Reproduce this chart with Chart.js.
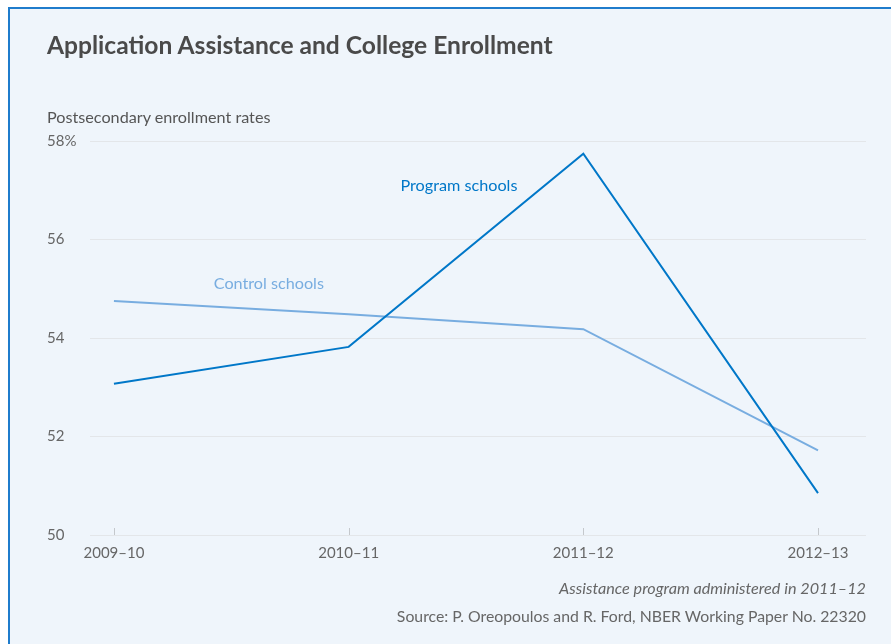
<!DOCTYPE html>
<html>
<head>
<meta charset="utf-8">
<script src="https://cdn.jsdelivr.net/npm/chart.js@4.4.1/dist/chart.umd.min.js"></script>
<style>
  html, body { margin: 0; padding: 0; background: #fff; overflow: hidden; }
  body { width: 891px; height: 644px; position: relative; font-family: Lato, "Noto Sans", sans-serif; }
  #card {
    position: absolute; left: 8px; top: 7px; width: 920px; height: 700px;
    border: 2px solid #1f7ccc; background: #eff5fb;
  }
  #chartWrap { position: absolute; left: 0; top: 0; width: 891px; height: 644px; }
  .txt { position: absolute; white-space: nowrap; }
  #title { left: 47px; top: 30px; font-size: 24.6px; font-weight: bold; color: #4a4a4a; }
  #subtitle { left: 47px; top: 107px; font-size: 16.2px; color: #555; }
  #note { right: 25px; top: 578px; font-size: 16.2px; font-style: italic; color: #666; }
  #source { right: 25px; top: 606px; font-size: 15.8px; color: #666; }
</style>
</head>
<body>
<div id="card"></div>
<div id="chartWrap"><canvas id="lineChart" width="891" height="644"></canvas></div>
<div class="txt" id="title">Application Assistance and College Enrollment</div>
<div class="txt" id="subtitle">Postsecondary enrollment rates</div>
<div class="txt" id="note">Assistance program administered in 2011–12</div>
<div class="txt" id="source">Source: P. Oreopoulos and R. Ford, NBER Working Paper No. 22320</div>

<script>
const years = ["2009–10", "2010–11", "2011–12", "2012–13"];
const programSchools = [53.07, 53.82, 57.74, 50.85];
const controlSchools = [54.75, 54.48, 54.18, 51.72];
const yTicks = [50, 52, 54, 56, 58];

const programColor = "#0077c8";
const controlColor = "#78ade0";

// labels drawn next to the lines, positioned in data units
const lineLabels = [
    { text: "Program schools", x: 1.47, y: 57.1, color: programColor },
    { text: "Control schools", x: 0.66, y: 55.1, color: controlColor }
];

const toPoints = arr => arr.map((v, i) => ({ x: i, y: v }));

const extras = {
    id: "extras",
    afterDatasetsDraw(chart) {
        const { ctx, scales: { x, y } } = chart;
        ctx.save();
        // small upward tick marks on the baseline
        ctx.strokeStyle = "#c4c8cc";
        ctx.lineWidth = 1;
        years.forEach((_, i) => {
            const px = Math.round(x.getPixelForValue(i)) + 0.5;
            const py = y.getPixelForValue(50);
            ctx.beginPath();
            ctx.moveTo(px, py);
            ctx.lineTo(px, py - 7);
            ctx.stroke();
        });
        ctx.font = "16.2px Lato, 'Noto Sans', sans-serif";
        ctx.textAlign = "center";
        ctx.textBaseline = "middle";
        lineLabels.forEach(l => {
            ctx.fillStyle = l.color;
            ctx.fillText(l.text, x.getPixelForValue(l.x), y.getPixelForValue(l.y));
        });
        ctx.restore();
    }
};

new Chart(document.getElementById("lineChart"), {
    type: "line",
    data: {
        datasets: [{
            label: "Program schools",
            data: toPoints(programSchools),
            borderColor: programColor,
            borderWidth: 2,
            pointRadius: 0,
            tension: 0
        }, {
            label: "Control schools",
            data: toPoints(controlSchools),
            borderColor: controlColor,
            borderWidth: 2,
            pointRadius: 0,
            tension: 0
        }]
    },
    options: {
        responsive: false,
        animation: false,
        layout: { padding: { left: 47, right: 25, top: 141, bottom: 79 } },
        plugins: { legend: { display: false }, tooltip: { enabled: false } },
        scales: {
            x: {
                type: "linear",
                min: -0.102,
                max: 3.2045,
                afterBuildTicks: s => { s.ticks = years.map((_, i) => ({ value: i })); },
                afterFit: s => { s.height = 30; },
                grid: { display: false },
                border: { display: false },
                ticks: {
                    callback: v => years[v],
                    color: "#666",
                    font: { family: "Lato, 'Noto Sans', sans-serif", size: 15 },
                    padding: 1,
                    maxRotation: 0
                }
            },
            y: {
                min: 50,
                max: 58,
                afterBuildTicks: s => { s.ticks = yTicks.map(v => ({ value: v })); },
                afterFit: s => { s.width = 43; },
                grid: { color: "#e3e6e9", drawTicks: false },
                border: { display: false },
                ticks: {
                    callback: v => v === 58 ? "58%" : v,
                    color: "#666",
                    crossAlign: "far",
                    font: { family: "Lato, 'Noto Sans', sans-serif", size: 15 },
                    padding: 8
                }
            }
        }
    },
    plugins: [extras]
});
</script>
</body>
</html>
